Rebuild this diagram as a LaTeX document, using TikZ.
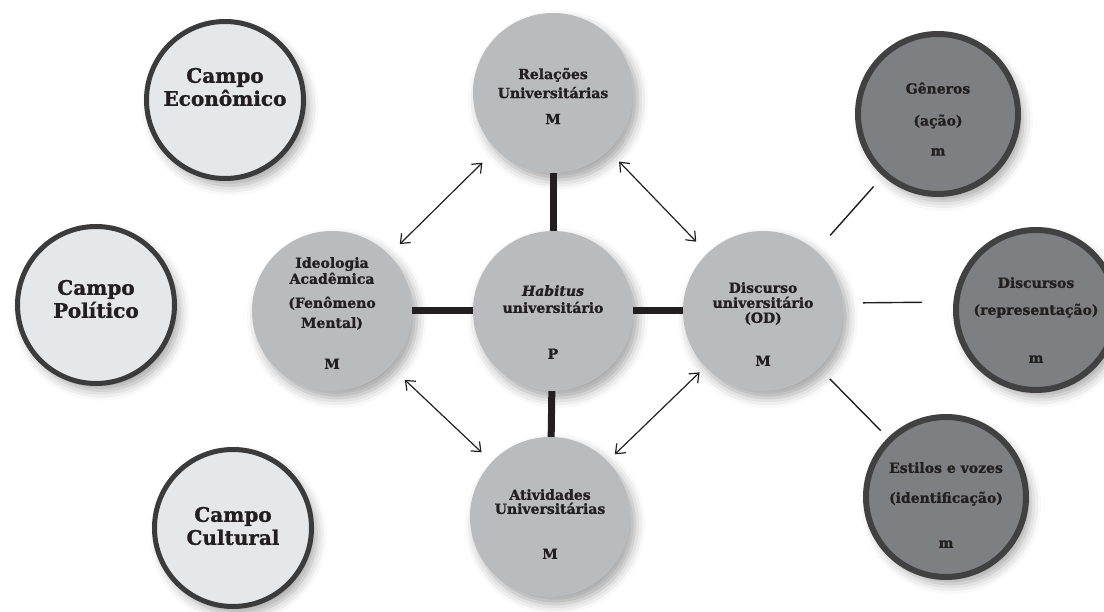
\documentclass[tikz,border=0pt]{standalone}
\usepackage{fontspec}
\setmainfont{DejaVu Serif}[BoldFeatures={FakeBold=1.2},BoldItalicFeatures={FakeBold=1.2}]
\usetikzlibrary{arrows.meta,shadows.blur}
\definecolor{txtc}{HTML}{231F20}
\definecolor{lightfill}{HTML}{E6E7E8}
\definecolor{lightdraw}{HTML}{3B3B3C}
\definecolor{midfill}{HTML}{BABBBD}
\definecolor{darkfill}{HTML}{7E7F82}
\definecolor{darkdraw}{HTML}{414142}
\tikzset{
  softshadow/.style={blur shadow={shadow xshift=5pt, shadow yshift=-7pt, shadow blur radius=10pt, shadow opacity=35}},
  lightc/.style={circle, minimum size=157pt, inner sep=0pt, fill=lightfill, draw=lightdraw, line width=5pt, softshadow},
  midc/.style={circle, minimum size=160pt, inner sep=0pt, fill=midfill, softshadow},
  darkc/.style={circle, minimum size=160pt, inner sep=0pt, fill=darkfill, draw=darkdraw, line width=6pt, softshadow},
  bigtxt/.style={font=\fontsize{20}{23}\selectfont\bfseries, text=txtc, align=center, inner sep=0pt},
  txt/.style={font=\fontsize{14}{16}\selectfont\bfseries, text=txtc, align=center, inner sep=0pt},
  thickconn/.style={line width=7pt, draw=txtc},
  thinconn/.style={line width=1.4pt, draw=txtc},
  biarrow/.style={line width=1.2pt, draw=txtc, {Straight Barb[length=8pt,width=13pt]}-{Straight Barb[length=8pt,width=13pt]}},
}
\begin{document}
\begin{tikzpicture}[x=1pt,y=-1pt]
\useasboundingbox (0,0) rectangle (1104,612);
% outer fields
\node[lightc] (eco) at (225,100) {};
\node[lightc] (pol) at (96,305) {};
\node[lightc] (cul) at (233,528) {};
% central circles
\node[midc] (rel) at (553,93) {};
\node[midc] (hab) at (553,311) {};
\node[midc] (ideo) at (332,311) {};
\node[midc] (disc) at (763,311) {};
\node[midc] (ativ) at (550,517) {};
% dark circles
\node[darkc] (gen) at (938,114) {};
\node[darkc] (dis2) at (1036,310) {};
\node[darkc] (est) at (946,497) {};
% texts
\node[bigtxt] (ecot) at (225,87) {Campo\\Econômico};
\node[bigtxt] (polt) at (96,299) {Campo\\Político};
\node[bigtxt] (cult) at (233,526) {Campo\\Cultural};
\node[txt] (relt) at (553,96) {Relações\\[3pt]Universitárias\\[10pt]M};
\node[txt] (habt) at (553,322) {\textit{Habitus}\\[1pt]universitário\\[30pt]P};
\node[txt] (ideot) at (332,313) {Ideologia\\Acadêmica\\[8pt](Fenômeno\\[4pt]Mental)\\[25pt]M};
\node[txt] (disct) at (763,324) {Discurso\\[-1pt]universitário\\[-1pt](OD)\\[27pt]M};
\node[txt] (ativt) at (550,524) {Atividades\\[-2pt]Universitárias\\[29pt]M};
\node[txt] (gent) at (938,119) {Gêneros\\[16pt](ação)\\[14pt]m};
\node[txt] (dis2t) at (1036,320) {Discursos\\[11pt](representação)\\[32pt]m};
\node[txt] (estt) at (946,505) {Estilos e vozes\\[14pt](identificação)\\[29pt]m};
% thick connectors
\draw[thickconn] (ideo) -- (hab);
\draw[thickconn] (hab) -- (disc);
\draw[thickconn] (rel) -- (hab);
\draw[thickconn] (hab) -- (ativ);
% double arrows
\draw[biarrow, shorten <=15pt, shorten >=19pt] (ideo) -- (rel);
\draw[biarrow, shorten <=15pt, shorten >=16pt] (rel) -- (disc);
\draw[biarrow, shorten <=20pt, shorten >=14pt] (ideo) -- (ativ);
\draw[biarrow, shorten <=8pt, shorten >=10pt] (disc) -- (ativ);
% thin lines to dark circles
\draw[thinconn, shorten <=21pt, shorten >=14pt] (disc) -- (gen);
\draw[thinconn, shorten <=20pt, shorten >=31pt] ([yshift=8pt]disc.east) -- ([yshift=8pt]dis2.west);
\draw[thinconn, shorten <=15pt, shorten >=10pt] (disc) -- (est);
\end{tikzpicture}
\end{document}
